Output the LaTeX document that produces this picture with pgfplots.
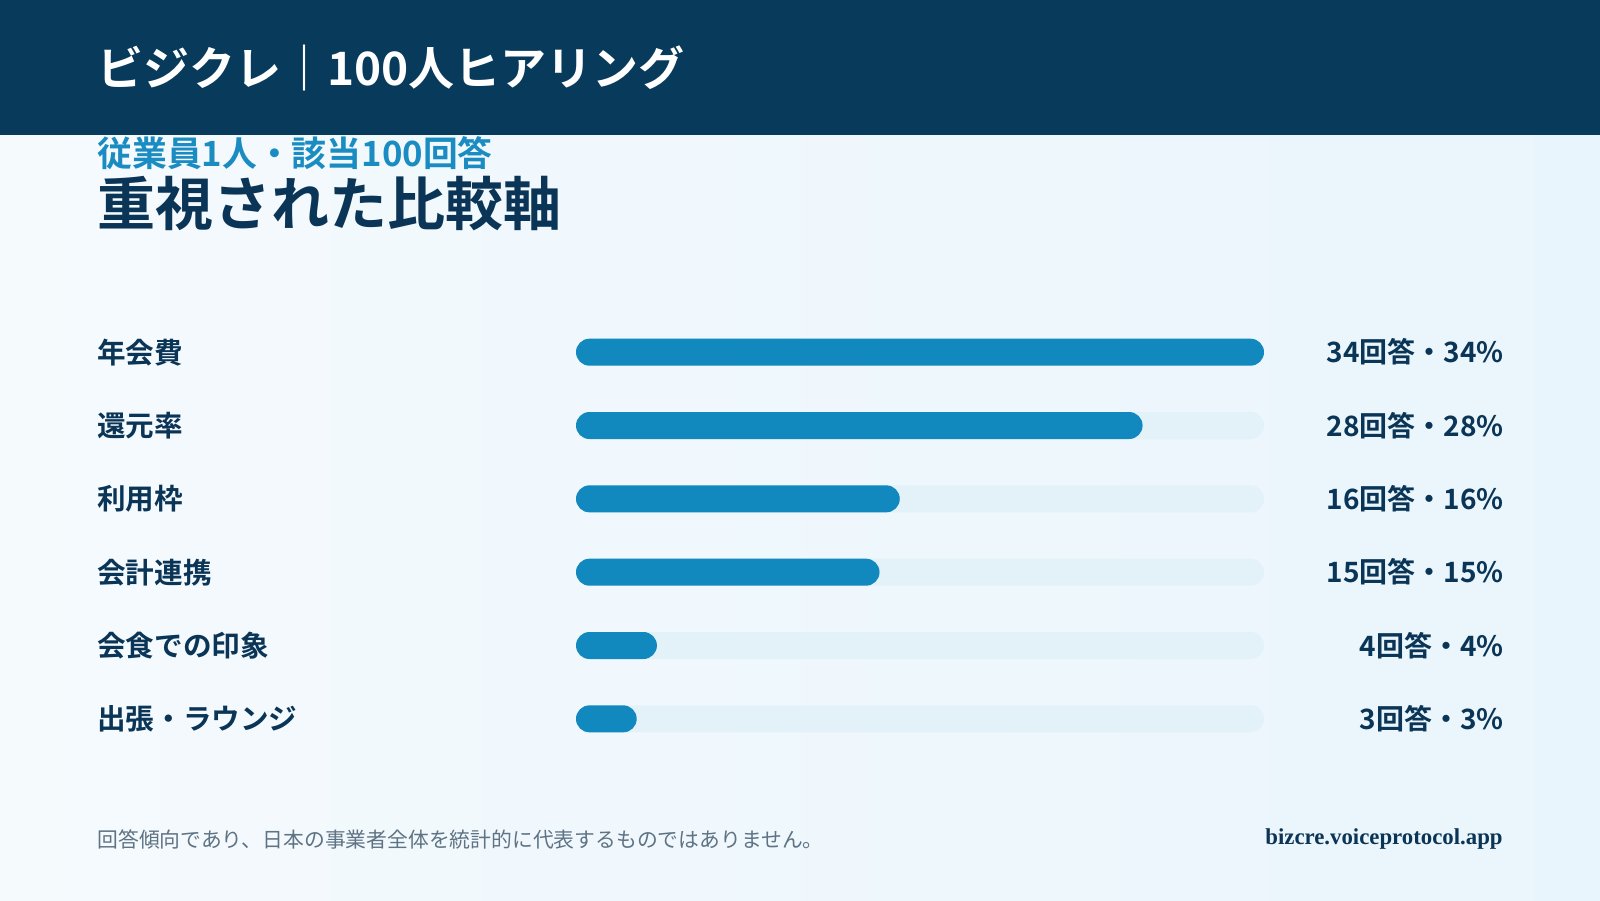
\documentclass[border=0pt]{standalone}
\usepackage{fontspec}
\setmainfont{Noto Sans CJK JP}[BoldFont={Noto Sans CJK JP Bold}]
\newfontfamily\latb{Liberation Serif}[BoldFont={Liberation Serif Bold}]
\usepackage{pgfplots}
\usepackage{pgfplotstable}
\pgfplotsset{compat=1.18}
\definecolor{hdr}{HTML}{083A5C}
\definecolor{sub}{HTML}{1A8CC2}
\definecolor{txt}{HTML}{0B3556}
\definecolor{barc}{HTML}{1289BE}
\definecolor{track}{HTML}{E3F2F9}
\definecolor{foot}{HTML}{5E7384}
\definecolor{bgl}{HTML}{F5FAFD}
\definecolor{bgr}{HTML}{E9F5FC}
\pgfplotstableread[col sep=comma]{
idx,label,n,full
0,年会費,34,34
1,還元率,28,34
2,利用枠,16,34
3,会計連携,15,34
4,会食での印象,4,34
5,出張・ラウンジ,3,34
}\datatable
\begin{document}
\begin{tikzpicture}[x=1pt,y=1pt]
\shade[left color=bgl, right color=bgr] (0,0) rectangle (800,450);
\fill[hdr] (0,382.5) rectangle (800,450);
\node[anchor=west, inner sep=0pt, text=white, font=\fontsize{23}{23}\selectfont\bfseries] at (48.5,416) {ビジクレ｜100人ヒアリング};
\node[anchor=west, inner sep=0pt, text=sub, font=\fontsize{17.4}{17.4}\selectfont\bfseries] at (48.5,373.5) {従業員1人・該当100回答};
\node[anchor=west, inner sep=0pt, text=txt, font=\fontsize{29}{29}\selectfont\bfseries] at (48.5,348.25) {重視された比較軸};
\begin{axis}[
  at={(288pt,72.25pt)}, anchor=south west,
  scale only axis, width=344pt, height=220pt,
  xmin=0, xmax=34, ymin=-0.5, ymax=5.5, y dir=reverse,
  axis line style={draw=none}, xtick=\empty,
  ytick={0,1,2,3,4,5},
  yticklabels from table={\datatable}{label},
  major tick length=0pt,
  yticklabel style={anchor=west, xshift=-239.5pt, inner sep=0pt,
    font=\fontsize{14.3}{14.3}\selectfont\bfseries, text=txt},
  xbar, bar width=13.5pt, bar shift=0pt, clip=false,
  /pgf/number format/assume math mode=true,
]
\addplot[fill=track, draw=none, rounded corners=6.75pt,
  point meta=explicit,
  nodes near coords={\pgfmathprintnumber{\pgfplotspointmeta}回答・\pgfmathprintnumber{\pgfplotspointmeta}\%},
  nodes near coords align={center},
  every node near coord/.append style={anchor=east, xshift=120pt, inner sep=0pt,
    font=\fontsize{14}{14}\selectfont\bfseries, text=txt}]
  table[x=full, y=idx, meta=n]{\datatable};
\addplot[fill=barc, draw=none, rounded corners=6.75pt]
  table[x=n, y=idx]{\datatable};
\end{axis}
\node[anchor=west, inner sep=0pt, text=foot, font=\fontsize{10.4}{10.4}\selectfont] at (48.5,30.5) {回答傾向であり、日本の事業者全体を統計的に代表するものではありません。};
\node[anchor=east, inner sep=0pt, text=txt, font=\latb\bfseries\fontsize{11.4}{11.4}\selectfont] at (751.5,30.5) {bizcre.voiceprotocol.app};
\end{tikzpicture}
\end{document}
